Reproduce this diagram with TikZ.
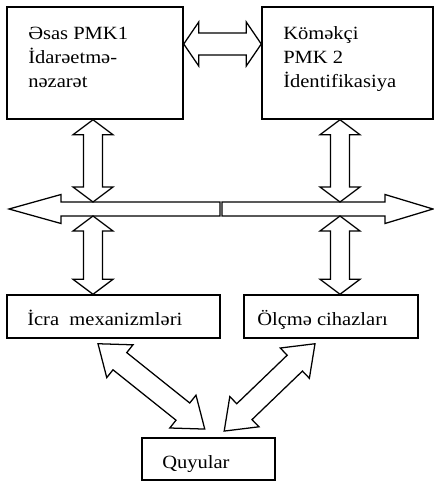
\documentclass[tikz,border=0pt]{standalone}
\usepackage{fontspec}
\setmainfont{Liberation Serif}[FakeStretch=1.1]
\usetikzlibrary{calc}

\tikzset{
  box/.style={draw, line width=1.1pt, inner sep=0pt},
  lbl/.style={anchor=base west, inner sep=0pt, align=left,
    font=\fontsize{14}{18}\selectfont},
  blockarrow/.style={draw, line width=0.95pt, fill=white, line join=miter}
}

\newcommand{\dblarrow}[5]{%
  \path[blockarrow] let \p1=(#4), \p2=(#5),
    \n1={atan2(\y2-\y1,\x2-\x1)}, \n2={veclen(\x2-\x1,\y2-\y1)} in
    [shift={(\p1)}, rotate=\n1]
    (0pt,0pt) -- ({#3*0.75pt},{#2*0.75pt}) -- ({#3*0.75pt},{#1*0.75pt})
    -- ({\n2-#3*0.75pt},{#1*0.75pt}) -- ({\n2-#3*0.75pt},{#2*0.75pt})
    -- ({\n2*1pt},0pt)
    -- ({\n2-#3*0.75pt},{-#2*0.75pt}) -- ({\n2-#3*0.75pt},{-#1*0.75pt})
    -- ({#3*0.75pt},{-#1*0.75pt}) -- ({#3*0.75pt},{-#2*0.75pt}) -- cycle;}

\newcommand{\onearrow}[5]{%
  \path[blockarrow] let \p1=(#4), \p2=(#5),
    \n1={atan2(\y2-\y1,\x2-\x1)}, \n2={veclen(\x2-\x1,\y2-\y1)} in
    [shift={(\p1)}, rotate=\n1]
    (0pt,{#1*0.75pt}) -- ({\n2-#3*0.75pt},{#1*0.75pt})
    -- ({\n2-#3*0.75pt},{#2*0.75pt}) -- ({\n2*1pt},0pt)
    -- ({\n2-#3*0.75pt},{-#2*0.75pt}) -- ({\n2-#3*0.75pt},{-#1*0.75pt})
    -- (0pt,{-#1*0.75pt}) -- cycle;}

\begin{document}
\begin{tikzpicture}[x=0.75pt, y=-0.75pt]
    \useasboundingbox (0,0) rectangle (434,483);

    \node[box, minimum width=132pt, minimum height=84pt] (osas) at (95,63) {};
    \node[box, minimum width=128.25pt, minimum height=84pt] (komekci) at (347.5,63) {};
    \node[box, minimum width=159.75pt, minimum height=32.25pt] (icra) at (113.5,316.5) {};
    \node[box, minimum width=130.5pt, minimum height=32.25pt] (olcme) at (331,316.5) {};
    \node[box, minimum width=99.75pt, minimum height=31.5pt] (quyu) at (208.5,459) {};

    \node[lbl] (osastxt) at (28,87) {Əsas PMK1\\İdarəetmə-\\nəzarət};
    \node[lbl] (komekcitxt) at (283,87) {Köməkçi\\PMK 2\\İdentifikasiya};
    \node[lbl] (icratxt) at (27,325) {İcra\ \ mexanizmləri};
    \node[lbl] (olcmetxt) at (257,325) {Ölçmə cihazları};
    \node[lbl] (quyutxt) at (162,468) {Quyular};

    \coordinate (lcol) at (93,0);
    \coordinate (rcol) at (340,0);
    \coordinate (bustop) at (0,202);
    \coordinate (busbot) at (0,216);
    \coordinate (busl) at (220,209);
    \coordinate (busr) at (222,209);
    \coordinate (lefttip) at (9,209);
    \coordinate (righttip) at (433,209);

    \onearrow{7}{14.5}{52}{busl}{lefttip}
    \onearrow{7}{14.5}{48}{busr}{righttip}

    \dblarrow{11}{22}{15}{$(osas.east)+(0,-19)$}{$(komekci.west)+(0,-19)$}

    \dblarrow{9.5}{20}{15}{lcol |- osas.south}{lcol |- bustop}
    \dblarrow{9.5}{20}{15}{rcol |- komekci.south}{rcol |- bustop}
    \dblarrow{9.5}{20}{15}{lcol |- busbot}{lcol |- icra.north}
    \dblarrow{9.5}{20}{15}{rcol |- busbot}{rcol |- olcme.north}

    \dblarrow{11}{21}{28}{$(icra.south)+(-15.5,5)$}{$(quyu.north)+(-3.5,-8)$}
    \dblarrow{11}{21}{28}{$(olcme.south)+(-16,5)$}{$(quyu.north)+(15.5,-6)$}
\end{tikzpicture}
\end{document}
